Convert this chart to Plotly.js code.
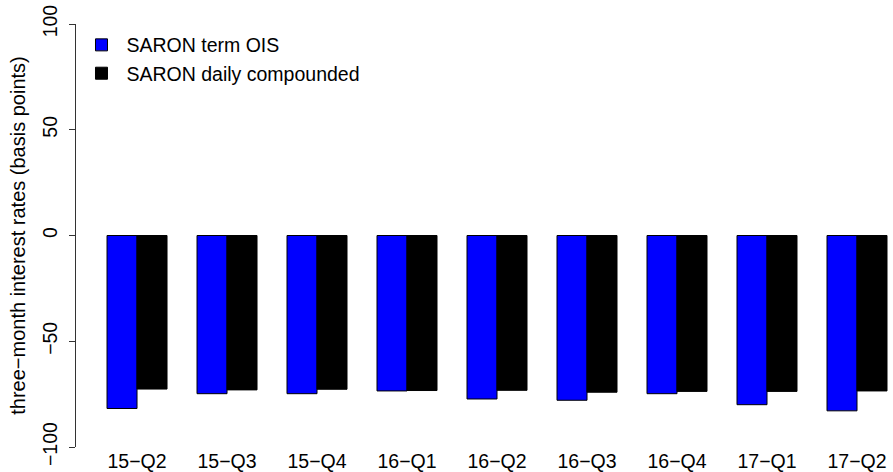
<!DOCTYPE html>
<html>
<head>
<meta charset="utf-8">
<script src="https://cdn.plot.ly/plotly-3.0.1.min.js"></script>
<style>html,body{margin:0;padding:0;background:#fff;}#chart{width:893px;height:472px;}</style>
</head>
<body>
<div id="chart"></div>
<script>
var quarters = ["15−Q2","15−Q3","15−Q4","16−Q1","16−Q2","16−Q3","16−Q4","17−Q1","17−Q2"];
var saronTermOIS = [-81.8, -74.8, -74.8, -73.5, -77.3, -77.9, -74.8, -80.0, -82.9];
var saronDailyCompounded = [-72.6, -73.0, -72.7, -73.3, -73.2, -74.1, -73.7, -73.7, -73.5];
var yTicks = [-100, -50, 0, 50, 100];

var font = {family: "Liberation Sans, Arial, sans-serif", size: 19.5, color: "#000"};
var titleFont = {family: "Liberation Sans, Arial, sans-serif", size: 20, color: "#000"};

var traces = [
  {type: "bar", name: "SARON term OIS", x: quarters, y: saronTermOIS,
   marker: {color: "#0000ff", line: {color: "#000", width: 1}}},
  {type: "bar", name: "SARON daily compounded", x: quarters, y: saronDailyCompounded,
   marker: {color: "#000000", line: {color: "#000", width: 1}}}
];

var layout = {
  width: 893, height: 472,
  margin: {l: 76, r: 0, t: 23.5, b: 24.5},
  paper_bgcolor: "#fff", plot_bgcolor: "#fff",
  font: font,
  barmode: "group", bargap: 1/3, bargroupgap: 0,
  showlegend: true,
  legend: {x: 0.0006, y: 0.996, xanchor: "left", yanchor: "top", bgcolor: "rgba(0,0,0,0)",
           font: font, tracegroupgap: 0, itemwidth: 40},
  xaxis: {type: "category", range: [-0.678, 8.4], showline: false, ticks: "",
          showgrid: false, zeroline: false, tickfont: font, ticklabelstandoff: 0},
  yaxis: {range: [-100, 100], tickvals: yTicks, ticks: "outside", ticklen: 6, tickcolor: "#333",
          showline: true, linecolor: "#333", linewidth: 1, showgrid: false, zeroline: false,
          tickangle: -90, tickfont: font, ticklabelstandoff: 4,
          title: {text: "three−month interest rates (basis points)", font: titleFont, standoff: 8}}
};

Plotly.newPlot("chart", traces, layout, {displayModeBar: false, staticPlot: true});
</script>
</body>
</html>
